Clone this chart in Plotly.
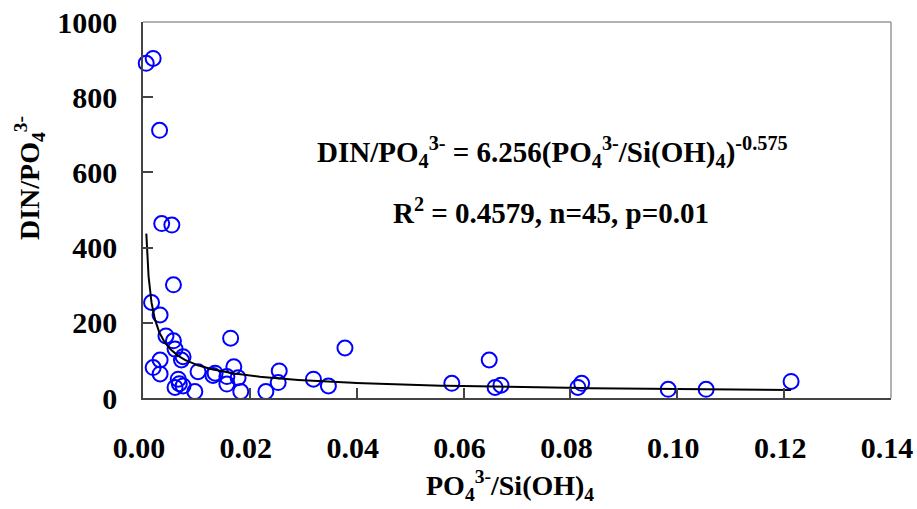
import numpy as np
import plotly.graph_objects as go

# Observed data: PO4(3-)/Si(OH)4 ratio vs DIN/PO4(3-) ratio
ratio_p_si = [0.0006, 0.0019, 0.0031, 0.0035, 0.0054, 0.0057, 0.0016, 0.0032, 0.0043,
              0.0057, 0.0060, 0.0075, 0.0072, 0.0032, 0.0019, 0.0032, 0.0066, 0.0060,
              0.0075, 0.0097, 0.0103, 0.0135, 0.0131, 0.0157, 0.0157, 0.0164, 0.0170,
              0.0178, 0.0183, 0.0230, 0.0255, 0.0253, 0.0319, 0.0347, 0.0378, 0.0578,
              0.0648, 0.0659, 0.0670, 0.0814, 0.0821, 0.0983, 0.1054, 0.1213, 0.0068]
din_p = [890, 903, 712, 464, 460, 301, 254, 221, 165,
         152, 130, 110, 101, 101, 81, 64, 50, 28,
         32, 17, 70, 66, 60, 57, 37, 159, 83,
         54, 17, 17, 72, 41, 50, 32, 133, 39,
         101, 28, 34, 28, 39, 23, 23, 44, 38]

# Power-law fit shown on the chart
fit_a = 6.256
fit_b = -0.575
fit_x = np.geomspace(0.00062, max(ratio_p_si), 300)
fit_y = fit_a * fit_x ** fit_b

x_ticks = [0.00, 0.02, 0.04, 0.06, 0.08, 0.10, 0.12, 0.14]
y_ticks = [0, 200, 400, 600, 800, 1000]

FONT = "Liberation Serif"

fig = go.Figure()
fig.add_trace(go.Scatter(
    x=ratio_p_si, y=din_p, mode="markers",
    marker=dict(symbol="circle-open", size=15, color="#0000FF", line=dict(width=2, color="#0000FF")),
    showlegend=False, cliponaxis=False))
fig.add_trace(go.Scatter(
    x=fit_x, y=fit_y, mode="lines",
    line=dict(color="black", width=2), showlegend=False))

fig.update_layout(
    width=917, height=509,
    margin=dict(l=143, r=26, t=22, b=111, autoexpand=False),
    paper_bgcolor="white", plot_bgcolor="white",
    font=dict(family=FONT, color="black"),
    xaxis=dict(range=[0, 0.14], tickvals=x_ticks, tickformat=".2f",
               automargin=False, ticklabeloverflow="allow", ticklabelshift=-4,
               showgrid=False, zeroline=False,
               showline=True, linecolor="#444", linewidth=1.5,
               ticks="inside", ticklen=10, tickcolor="#444", tickwidth=1.5,
               tickfont=dict(family=FONT, size=30, weight="bold", color="black"),
               ticklabelstandoff=22),
    yaxis=dict(range=[0, 1000], tickvals=y_ticks,
               automargin=False, ticklabeloverflow="allow",
               showgrid=False, zeroline=False,
               showline=True, linecolor="#444", linewidth=1.5,
               ticks="inside", ticklen=10, tickcolor="#444", tickwidth=1.5,
               tickfont=dict(family=FONT, size=30, weight="bold", color="black"),
               ticklabelstandoff=18),
    shapes=[
        dict(type="line", xref="paper", yref="paper", x0=0, x1=1, y0=1, y1=1,
             line=dict(color="#999", width=1.5)),
        dict(type="line", xref="paper", yref="paper", x0=1, x1=1, y0=0, y1=1,
             line=dict(color="#999", width=1.5)),
    ],
    annotations=[
        dict(text="DIN/PO<sub>4</sub><sup>3-</sup> = 6.256(PO<sub>4</sub><sup>3-</sup>/Si(OH)<sub>4</sub>)<sup>-0.575</sup>",
             xref="paper", yref="paper", x=0.548, y=(398 - 152) / 376,
             showarrow=False, xanchor="center", yanchor="middle",
             font=dict(family=FONT, size=29, weight="bold", color="black")),
        dict(text="R<sup>2</sup> = 0.4579, n=45, p=0.01",
             xref="paper", yref="paper", x=0.546, y=(398 - 211) / 376,
             showarrow=False, xanchor="center", yanchor="middle",
             font=dict(family=FONT, size=29, weight="bold", color="black")),
        dict(text="PO<sub>4</sub><sup>3-</sup>/Si(OH)<sub>4</sub>",
             xref="paper", yref="paper", x=0.49, y=(398 - 485) / 376,
             showarrow=False, xanchor="center", yanchor="middle",
             font=dict(family=FONT, size=28, weight="bold", color="black")),
        dict(text="DIN/PO<sub>4</sub><sup>3-</sup>",
             xref="paper", yref="paper", x=(29 - 143) / 748, y=(398 - 178) / 376,
             showarrow=False, xanchor="center", yanchor="middle", textangle=-90,
             font=dict(family=FONT, size=28, weight="bold", color="black")),
    ],
)

fig.write_html("out.html", config={"displayModeBar": False},
               post_script="document.body.style.margin='0';document.body.style.overflow='hidden';")
